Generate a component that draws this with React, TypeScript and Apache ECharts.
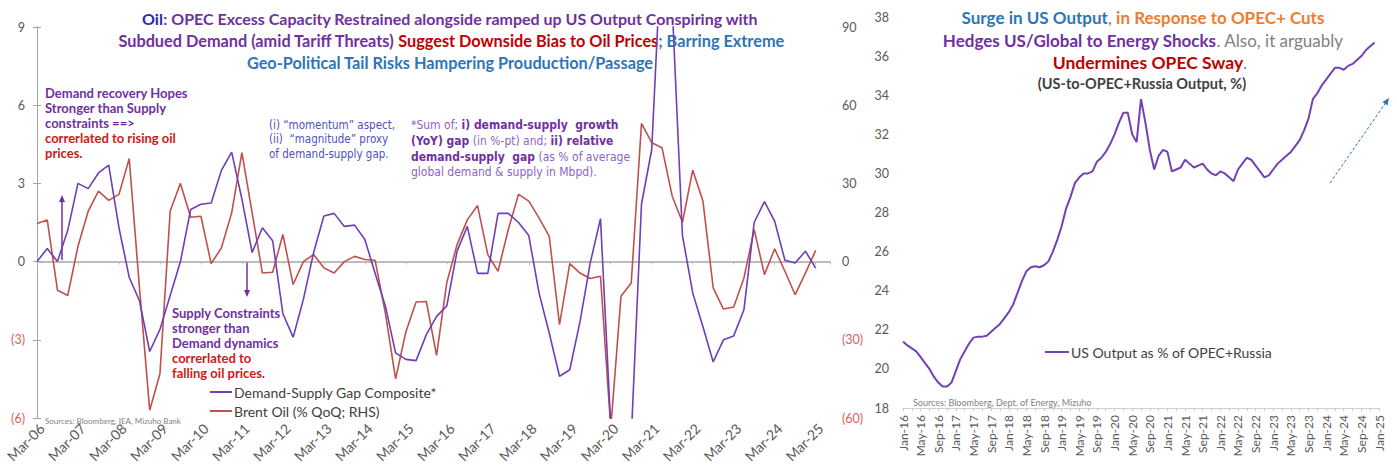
import React, { useEffect, useRef } from "react";
import * as echarts from "echarts";

// ---------- Left panel: quarterly, Mar-06 .. Mar-25 ----------
const QUARTER_MONTHS = ["Mar", "Jun", "Sep", "Dec"];
const FIRST_YEAR = 2006;
const LAST_YEAR = 2025;

// Demand-supply gap composite (LHS)
const GAP_COMPOSITE = [
  0.0, 0.5, 0.0, 1.2, 3.0, 2.8, 3.4, 3.7, 1.3, -0.6,
  -1.5, -3.45, -2.6, -1.3, 0.0, 2.0, 2.2, 2.25, 3.5, 4.2,
  2.4, 0.35, 1.3, 0.8, -2.0, -2.9, -1.45, 0.35, 1.75, 1.85,
  1.35, 1.4, 0.85, -0.45, -1.7, -3.5, -3.75, -3.8, -2.8, -2.1,
  -1.7, 0.4, 1.35, -0.45, -0.45, 1.85, 1.85, 1.5, 1.0, -1.2,
  -2.75, -4.4, -4.15, -2.3, -0.05, 1.65, -6.3, -12.0, -6.8, 2.2,
  4.3, 12.5, 9.8, 1.0, -1.2, -2.5, -3.85, -3.0, -2.85, -1.85,
  1.5, 2.3, 1.55, 0.05, -0.05, 0.4, -0.25,
];

// Brent oil, % QoQ (RHS)
const BRENT_QOQ = [
  14.6, 16.0, -11.0, -13.0, 5.9, 19.4, 27.0, 23.5, 25.8, 39.5,
  -10.0, -57.0, -43.0, 19.4, 30.0, 17.0, 17.4, -0.8, 5.3, 18.7,
  41.8, 18.7, -4.4, -4.1, 10.4, -8.8, 0.0, 2.7, -2.4, -4.4,
  0.0, 2.0, 0.8, 0.5, -19.7, -45.0, -27.0, -15.5, -15.3, -36.0,
  -8.0, 6.5, 16.0, 21.5, 2.7, -3.7, 12.3, 25.8, 23.2, 16.8,
  9.7, -24.2, -0.8, -4.4, -6.5, -5.6, -64.0, -13.3, -8.2, 53.0,
  45.6, 43.7, 25.1, 15.1, 35.1, 23.2, -10.1, -18.2, -17.4, -6.3,
  12.3, -5.0, 4.9, -3.7, -12.7, -4.4, 4.3,
];

// ---------- Right panel: monthly, Jan-16 .. Jan-25 ----------
const MONTHS = ["Jan", "Feb", "Mar", "Apr", "May", "Jun", "Jul", "Aug", "Sep", "Oct", "Nov", "Dec"];
const M_FIRST_YEAR = 2016;
const M_LAST_YEAR = 2025;

// US output as % of OPEC+Russia
const US_TO_OPEC_RUSSIA = [
  21.4, 21.2, 21.05, 20.9, 20.6, 20.3, 20.0, 19.6, 19.3, 19.1,
  19.1, 19.3, 19.9, 20.5, 20.9, 21.3, 21.6, 21.65, 21.65, 21.7,
  21.9, 22.1, 22.3, 22.6, 22.9, 23.3, 23.9, 24.5, 25.0, 25.2,
  25.25, 25.2, 25.3, 25.5, 26.0, 26.6, 27.3, 28.2, 28.8, 29.5,
  29.8, 30.0, 30.0, 30.1, 30.6, 30.8, 31.1, 31.5, 32.0, 32.6,
  33.1, 33.1, 32.0, 31.6, 33.8, 32.6, 31.2, 30.2, 30.9, 31.2,
  31.1, 30.1, 30.2, 30.3, 30.7, 30.5, 30.3, 30.4, 30.5, 30.2,
  30.0, 29.9, 30.1, 30.0, 29.8, 29.6, 30.2, 30.5, 30.8, 30.7,
  30.4, 30.1, 29.8, 29.9, 30.2, 30.5, 30.7, 30.9, 31.1, 31.4,
  31.7, 32.2, 32.8, 33.8, 34.1, 34.5, 34.8, 35.1, 35.4, 35.4,
  35.3, 35.5, 35.6, 35.8, 36.0, 36.3, 36.5, 36.7,
];

const FONT = "Lato, 'Open Sans', sans-serif";
const NARROW = "'Liberation Sans Narrow', 'DejaVu Sans Condensed', sans-serif";
const PURPLE = "#7030A0";
const LINE_PURPLE = "#6E3FB5";
const LINE_RED = "#C0504D";
const TXT_RED = "#C00000";
const NEG_RED = "#E0605A";
const BLUE = "#2E75B6";
const AXIS_GRAY = "#A6A6A6";
const LABEL_GRAY = "#595959";

function buildQuarterLabels(): string[] {
  const out: string[] = [];
  for (let y = FIRST_YEAR; y <= LAST_YEAR; y++) {
    for (const m of QUARTER_MONTHS) out.push(`${m}-${String(y % 100).padStart(2, "0")}`);
  }
  return out;
}

function buildMonthLabels(): string[] {
  const out: string[] = [];
  for (let y = M_FIRST_YEAR; y <= M_LAST_YEAR; y++) {
    for (const m of MONTHS) {
      out.push(`${m}-${String(y % 100).padStart(2, "0")}`);
      if (y === M_LAST_YEAR) break;
    }
  }
  return out;
}

const paren = (v: number | string) => {
  const n = Number(v);
  return n < 0 ? `(${Math.abs(n)})` : `${n}`;
};
const signColor = (v: any) => (Number(v) < 0 ? NEG_RED : LABEL_GRAY);

function textLine(x: number, y: number, text: string, rich: any, align = "left", font = FONT) {
  return {
    type: "text",
    x,
    y,
    silent: true,
    style: {
      text,
      rich,
      align,
      verticalAlign: "middle",
      fontFamily: font,
    },
  };
}

export default function App() {
  const ref = useRef<HTMLDivElement>(null);

  useEffect(() => {
    if (!ref.current) return;
    const chart = echarts.init(ref.current, null, { renderer: "svg" });
    const qLabels = buildQuarterLabels();
    const mLabels = buildMonthLabels();
    const qMax = 77.4;

    const titleRich = (size: number) => ({
      o: { fill: "#2A2AB8", fontWeight: "bold", fontSize: size, fontFamily: FONT },
      p: { fill: PURPLE, fontWeight: "bold", fontSize: size, fontFamily: FONT },
      r: { fill: TXT_RED, fontWeight: "bold", fontSize: size, fontFamily: FONT },
      b: { fill: BLUE, fontWeight: "bold", fontSize: size, fontFamily: FONT },
      or: { fill: "#ED7D31", fontWeight: "bold", fontSize: size, fontFamily: FONT },
      g: { fill: "#7F7F7F", fontWeight: "normal", fontSize: size, fontFamily: FONT },
      d: { fill: "#404040", fontWeight: "bold", fontSize: size, fontFamily: FONT },
    });
    const annRich = {
      p: { fill: PURPLE, fontWeight: "bold", fontSize: 13, fontFamily: FONT },
      r: { fill: "#D01818", fontWeight: "bold", fontSize: 13, fontFamily: FONT },
    };
    const noteRich = {
      n: { fill: "#8E63C8", fontSize: 12, fontFamily: NARROW },
      bd: { fill: PURPLE, fontWeight: "bold", fontSize: 12, fontFamily: NARROW },
      u: { fill: "#5050C0", fontSize: 11.5, fontFamily: NARROW },
    };

    const arrowHead = (tx: number, ty: number, dx: number, dy: number, color: string, len = 7, half = 3) => {
      const bx = tx - dx * len;
      const by = ty - dy * len;
      return {
        type: "polygon",
        silent: true,
        shape: {
          points: [
            [tx, ty],
            [bx + dy * half, by - dx * half],
            [bx - dy * half, by + dx * half],
          ],
        },
        style: { fill: color },
      };
    };
    const ax = 1330, ay = 183, tx = 1389, ty = 98;
    const alen = Math.hypot(tx - ax, ty - ay);
    const ux = (tx - ax) / alen, uy = (ty - ay) / alen;

    const option: any = {
      animation: false,
      backgroundColor: "#ffffff",
      textStyle: { fontFamily: FONT },
      grid: [
        { left: 37, right: 567, top: 27, bottom: 52 },
        { left: 903, right: 18, top: 17, bottom: 62 },
      ],
      legend: [
        {
          data: ["Demand-Supply Gap Composite*", "Brent Oil (% QoQ; RHS)"],
          orient: "vertical",
          left: 205,
          top: 380,
          icon: "rect",
          itemWidth: 22,
          itemHeight: 2,
          itemGap: 5,
          selectedMode: false,
          textStyle: { fontSize: 14, color: "#404040", fontFamily: FONT, padding: [0, 0, 0, -3] },
        },
        {
          data: ["US Output as % of OPEC+Russia"],
          left: 1040,
          top: 340,
          icon: "rect",
          itemWidth: 24,
          itemHeight: 2,
          selectedMode: false,
          textStyle: { fontSize: 14, color: "#404040", fontFamily: FONT, padding: [0, 0, 0, -3] },
        },
      ],
      xAxis: [
        {
          // zero line with yearly ticks
          type: "value",
          gridIndex: 0,
          min: 0,
          max: qMax,
          interval: 4,
          axisLine: { show: true, onZero: true, onZeroAxisIndex: 0, lineStyle: { color: AXIS_GRAY, width: 1.5 } },
          axisTick: { show: true, length: 3, inside: false, lineStyle: { color: "#BFBFBF" } },
          axisLabel: { show: false },
          splitLine: { show: false },
        },
        {
          // bottom date labels
          type: "value",
          gridIndex: 0,
          min: 0,
          max: qMax,
          interval: 4,
          position: "bottom",
          axisLine: { show: false, onZero: false },
          axisTick: { show: false },
          splitLine: { show: false },
          axisLabel: {
            rotate: 45,
            margin: 3,
            fontSize: 14,
            verticalAlign: "top",
            color: LABEL_GRAY,
            fontFamily: FONT,
            showMaxLabel: false,
            formatter: (v: number) => (Number.isInteger(v) && v % 4 === 0 ? qLabels[v] ?? "" : ""),
          },
        },
        {
          type: "category",
          gridIndex: 1,
          data: mLabels,
          boundaryGap: false,
          axisLine: { show: true, lineStyle: { color: "#D0D0D0" } },
          axisTick: { show: true, interval: 1, length: 3, lineStyle: { color: "#C8C8C8" } },
          axisLabel: {
            interval: 3,
            rotate: 90,
            margin: 7,
            fontSize: 12,
            color: LABEL_GRAY,
            fontFamily: FONT,
          },
          splitLine: { show: false },
        },
      ],
      yAxis: [
        {
          type: "value",
          gridIndex: 0,
          position: "left",
          min: -6,
          max: 9,
          interval: 3,
          axisLine: { show: true, lineStyle: { color: AXIS_GRAY } },
          axisTick: { show: true, length: 4, lineStyle: { color: AXIS_GRAY } },
          splitLine: { show: false },
          axisLabel: { margin: 12, fontSize: 12.5, fontFamily: FONT, formatter: paren, color: signColor },
        },
        {
          type: "value",
          gridIndex: 0,
          position: "right",
          min: -60,
          max: 90,
          interval: 30,
          axisLine: { show: true, lineStyle: { color: AXIS_GRAY } },
          axisTick: { show: true, length: 4, lineStyle: { color: AXIS_GRAY } },
          splitLine: { show: false },
          axisLabel: { margin: 12, fontSize: 12.5, fontFamily: FONT, formatter: paren, color: signColor },
        },
        {
          type: "value",
          gridIndex: 1,
          min: 18,
          max: 38,
          interval: 2,
          axisLine: { show: false },
          axisTick: { show: false },
          splitLine: { show: false },
          axisLabel: { margin: 14, fontSize: 12.5, fontFamily: FONT, color: LABEL_GRAY },
        },
      ],
      series: [
        {
          name: "Demand-Supply Gap Composite*",
          type: "line",
          xAxisIndex: 0,
          yAxisIndex: 0,
          data: GAP_COMPOSITE.map((v, i) => [i, v]),
          symbol: "none",
          clip: true,
          color: LINE_PURPLE,
          lineStyle: { color: LINE_PURPLE, width: 1.6 },
          z: 3,
        },
        {
          name: "Brent Oil (% QoQ; RHS)",
          type: "line",
          xAxisIndex: 0,
          yAxisIndex: 1,
          data: BRENT_QOQ.map((v, i) => [i, v]),
          symbol: "none",
          clip: true,
          color: LINE_RED,
          lineStyle: { color: LINE_RED, width: 1.6 },
          z: 2,
        },
        {
          name: "US Output as % of OPEC+Russia",
          type: "line",
          xAxisIndex: 2,
          yAxisIndex: 2,
          data: US_TO_OPEC_RUSSIA,
          symbol: "none",
          color: "#7441B5",
          lineStyle: { color: "#7441B5", width: 2 },
        },
      ],
      graphic: {
        elements: [
          // left title
          textLine(450, 18, "{o|Oil}{p|: OPEC Excess Capacity Restrained alongside ramped up US Output Conspiring with}", titleRich(16), "center"),
          textLine(451, 40, "{p|Subdued Demand (amid Tariff Threats) }{r|Suggest Downside Bias to Oil Prices}{b|; Barring Extreme}", titleRich(16.3), "center"),
          textLine(450, 62, "{b|Geo-Political Tail Risks Hampering Prouduction/Passage}", titleRich(16.3), "center"),

          // upper-left annotation
          textLine(45, 93, "{p|Demand recovery Hopes}", annRich),
          textLine(45, 108, "{p|Stronger than Supply}", annRich),
          textLine(45, 123, "{p|constraints ==>}", annRich),
          textLine(45, 138, "{r|correrlated to rising oil}", annRich),
          textLine(45, 153, "{r|prices.}", annRich),

          // lower annotation
          textLine(172, 313, "{p|Supply Constraints}", annRich),
          textLine(172, 328, "{p|stronger than}", annRich),
          textLine(172, 343, "{p|Demand dynamics}", annRich),
          textLine(172, 358, "{r|correrlated to}", annRich),
          textLine(172, 373, "{r|falling oil prices}{p|.}", annRich),

          // composite notes
          textLine(269, 125, "{u|(i) \u201cmomentum\u201d aspect,}", noteRich),
          textLine(269, 139, "{u|(ii)  \u201cmagnitude\u201d proxy}", noteRich),
          textLine(269, 154, "{u|of demand-supply gap.}", noteRich),

          textLine(411, 125, "{n|*Sum of; }{bd|i) demand-supply  growth}", noteRich),
          textLine(411, 141, "{bd|(YoY) gap}{n| (in %-pt) and; }{bd|ii) relative}", noteRich),
          textLine(411, 157, "{bd|demand-supply  gap}{n| (as % of average}", noteRich),
          textLine(411, 172, "{n|global demand & supply in Mbpd).}", noteRich),

          // arrows
          { type: "line", silent: true, shape: { x1: 62, y1: 260, x2: 62, y2: 200 }, style: { stroke: PURPLE, lineWidth: 1.5 } },
          arrowHead(62, 195, 0, -1, PURPLE),
          { type: "line", silent: true, shape: { x1: 247, y1: 262, x2: 247, y2: 292 }, style: { stroke: PURPLE, lineWidth: 1.5 } },
          arrowHead(247, 297, 0, 1, PURPLE),

          // sources
          { type: "text", x: 45, y: 421, silent: true, style: { text: "Sources: Bloomberg, IEA, Mizuho Bank", fontSize: 8, fill: "#7F7F7F", fontFamily: FONT, verticalAlign: "middle" } },
          { type: "text", x: 913, y: 402, silent: true, style: { text: "Sources: Bloomberg, Dept. of Energy, Mizuho", fontSize: 9, fill: "#7F7F7F", fontFamily: FONT, verticalAlign: "middle" } },

          // right title
          textLine(1143, 17, "{b|Surge in US Output}{g|, }{or|in Response to OPEC+ Cuts}", titleRich(17), "center"),
          textLine(1143, 40, "{p|Hedges US/Global to Energy Shocks}{g|. Also, it arguably}", titleRich(17), "center"),
          textLine(1150, 62, "{r|Undermines OPEC Sway}{g|.}", titleRich(17.5), "center"),
          textLine(1142, 83, "{d|(US-to-OPEC+Russia Output, %)}", titleRich(14.5), "center"),

          // trend arrow
          {
            type: "line",
            silent: true,
            shape: { x1: ax, y1: ay, x2: tx - ux * 6, y2: ty - uy * 6 },
            style: { stroke: BLUE, lineWidth: 1, lineDash: [3, 2] },
          },
          arrowHead(tx, ty, ux, uy, BLUE, 7, 3),
        ],
      },
    };

    chart.setOption(option);
    return () => chart.dispose();
  }, []);

  return (
    <div
      ref={ref}
      style={{ position: "fixed", left: 0, top: 0, width: 1397, height: 470, background: "#fff" }}
    />
  );
}
